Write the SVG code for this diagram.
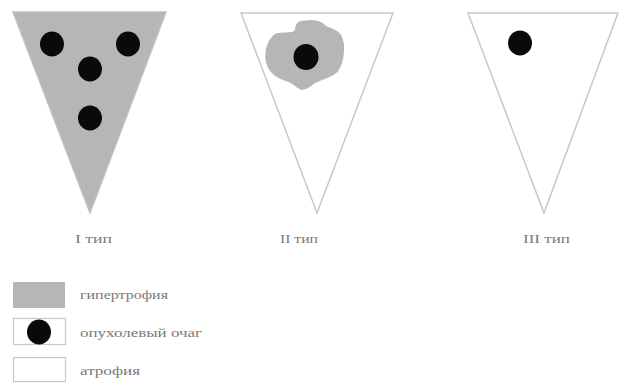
<svg xmlns="http://www.w3.org/2000/svg" width="619" height="383" viewBox="0 0 619 383">
<style>
.tri{stroke:#c8c8c8;stroke-width:1.5;stroke-linejoin:miter}
.hyp{fill:#b6b6b6}
.atr{fill:#ffffff}
.dot{fill:#0a0a0a}
.lbl{font-family:"Liberation Serif",serif;font-size:13px;fill:#7a7a7a}
.box{stroke:#c8c8c8;stroke-width:1.2}
</style>
<rect width="619" height="383" fill="#ffffff"/>
<g id="type1">
<polygon class="tri hyp" points="13,12 166,12 90,213" style="stroke:#c0c0c0"/>
<ellipse class="dot" cx="52" cy="44" rx="12" ry="12.5"/>
<ellipse class="dot" cx="128" cy="44" rx="12" ry="12.5"/>
<ellipse class="dot" cx="90" cy="69" rx="12" ry="12.5"/>
<ellipse class="dot" cx="90" cy="118" rx="12" ry="12.5"/>
<text class="lbl" x="75" y="243" textLength="37" lengthAdjust="spacingAndGlyphs">I тип</text>
</g>
<g id="type2">
<polygon class="tri atr" points="241,13 393,13 317,213"/>
<path class="hyp" stroke="#b6b6b6" stroke-width="1.5" stroke-linejoin="round" d="M296.7,25 Q299,21.5 302,21.5 L311.7,20.7 Q318,21 321.7,23.3 L326.7,27.3 Q332,29 336.7,31.7 Q341,35 341.7,38.3 Q344,44 343.3,50 Q343,57 341.7,61.7 Q340,67 336.7,71.7 Q333,75 328.3,76.7 L320,80 Q314,82 310,86 Q306,89 301.7,89.3 Q298,88 295,85 Q290,81 285,80 Q279,78 275,75 Q270,71 268.3,66.7 Q266,62 266,56.7 Q266,51 267.3,46.7 Q269,41 271.7,38.3 Q274,35 276.7,34 Q282,33 286.7,33.3 Q292,33 295,31.7 Q296,28 296.7,25 Z"/>
<ellipse class="dot" cx="306" cy="57" rx="12.5" ry="13"/>
<text class="lbl" x="280" y="243" textLength="38" lengthAdjust="spacingAndGlyphs">II тип</text>
</g>
<g id="type3">
<polygon class="tri atr" points="468,13 618,13 544,213"/>
<ellipse class="dot" cx="520" cy="43" rx="12" ry="12.5"/>
<text class="lbl" x="523" y="243" textLength="47" lengthAdjust="spacingAndGlyphs">III тип</text>
</g>
<g id="legend-hypertrophy">
<rect x="13" y="282" width="52" height="26" fill="#b6b6b6"/>
<text class="lbl" x="80" y="299" textLength="88" lengthAdjust="spacingAndGlyphs">гипертрофия</text>
</g>
<g id="legend-tumor">
<rect class="box" x="13.5" y="318.5" width="52" height="26" fill="#ffffff"/>
<ellipse class="dot" cx="39" cy="332" rx="12" ry="12.5"/>
<text class="lbl" x="80" y="337" textLength="122" lengthAdjust="spacingAndGlyphs">опухолевый очаг</text>
</g>
<g id="legend-atrophy">
<rect class="box" x="13.5" y="357.5" width="52" height="24" fill="#ffffff"/>
<text class="lbl" x="80" y="375" textLength="60" lengthAdjust="spacingAndGlyphs">атрофия</text>
</g>
<g id="connectors"></g>
</svg>
